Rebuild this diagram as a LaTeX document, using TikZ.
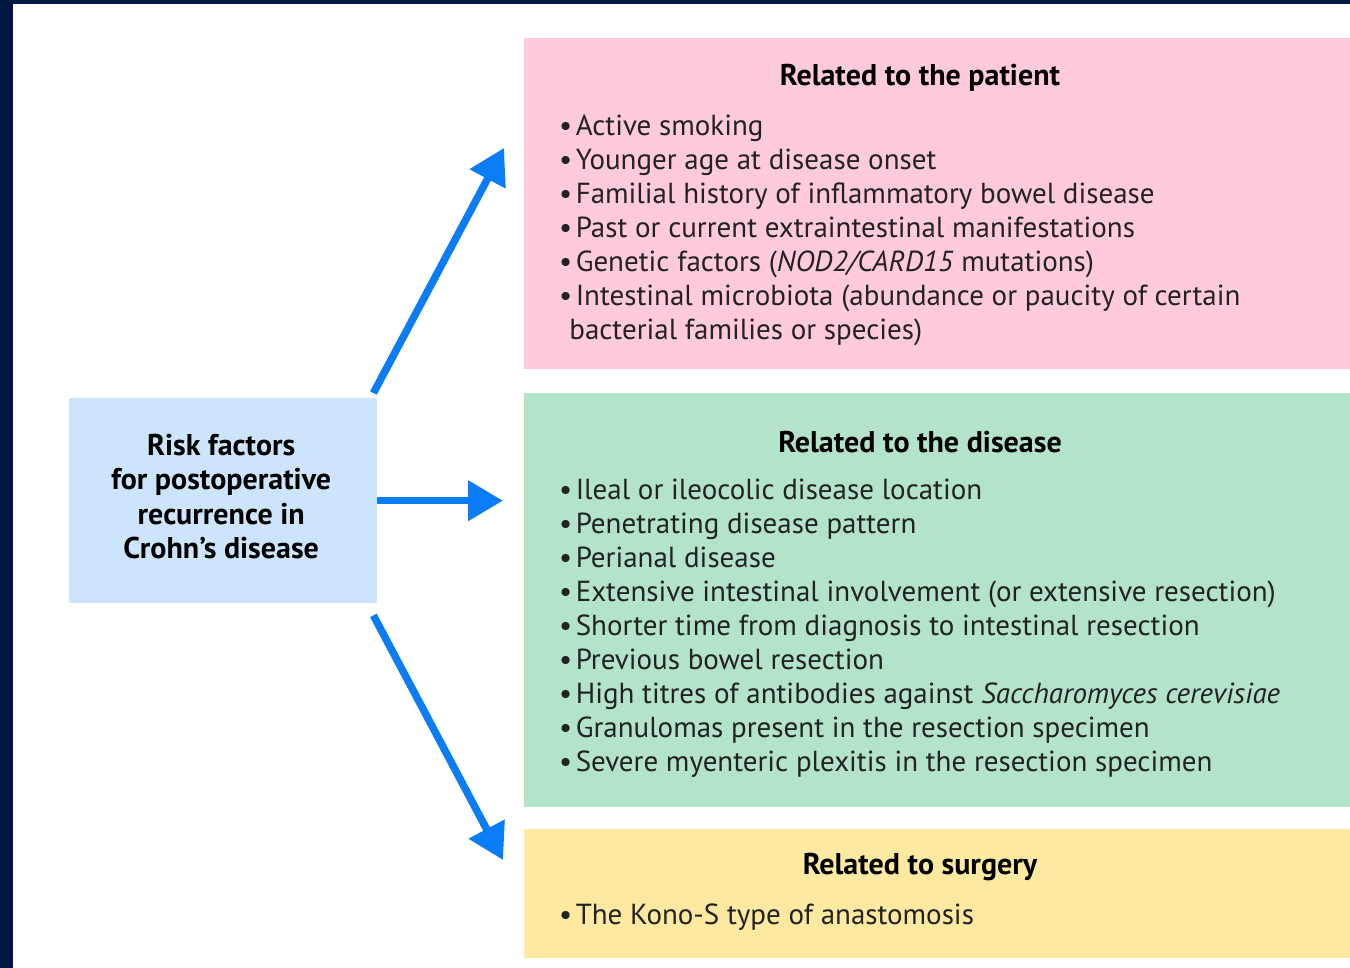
\documentclass[tikz,border=0pt]{standalone}
\usepackage{fontspec}
\setmainfont{PT Sans}
\usetikzlibrary{arrows.meta,positioning,calc}
\definecolor{bgNavy}{HTML}{00183F}
\definecolor{boxBlue}{HTML}{CCE5FC}
\definecolor{boxPink}{HTML}{FFC9DE}
\definecolor{boxGreen}{HTML}{B3E3C8}
\definecolor{boxYellow}{HTML}{FDE9A0}
\definecolor{arrBlue}{HTML}{0A7CF6}
\definecolor{txtGray}{HTML}{222222}
\newcommand{\bodysize}{\fontsize{29}{34}\selectfont}
\newcommand{\headsize}{\fontsize{30}{34.5}\selectfont}
\newcommand{\bul}{•\hspace{0.12em}}
\tikzset{
  panel/.style={anchor=north west, inner sep=0pt, minimum width=826pt},
  heading/.style={anchor=base, font=\headsize\bfseries, text=black},
  itemlist/.style={anchor=base west, align=left, inner sep=0pt},% base = last line
  bigarrow/.style={arrBlue, line width=7.5pt, -{Triangle[length=35pt, width=39pt]}}
}
\begin{document}
\begin{tikzpicture}[x=1pt, y=-1pt, >=Stealth, text=txtGray, font=\bodysize]
\useasboundingbox (0,0) rectangle (1350,968);
\fill[white] (0,0) rectangle (1350,968);
\fill[bgNavy] (0,0) rectangle (13,968);
\fill[bgNavy] (0,0) rectangle (1350,4);
% boxes
\node[panel, fill=boxBlue, minimum width=308pt, minimum height=205pt] (risk) at (69,398) {};
\node[panel, fill=boxPink, minimum height=331pt] (patient) at (524,38) {};
\node[panel, fill=boxGreen, minimum height=414pt] (disease) at (524,393) {};
\node[panel, fill=boxYellow, minimum height=129pt] (surgery) at (524,829) {};
% texts
\node[align=center, font=\headsize\bfseries, text=black] (riskText) at ($(risk.center)+(-2,-4)$)
  {Risk factors\\for postoperative\\recurrence in\\Crohn’s disease};
\node[heading] (patTitle) at (920,86) {Related to the patient};
\node[itemlist] (patList) at (559,340) {\bul Active smoking\\
  \bul Younger age at disease onset\\
  \bul Familial history of inflammatory bowel disease\\
  \bul Past or current extraintestinal manifestations\\
  \bul Genetic factors (\textit{NOD2/CARD15} mutations)\\
  \bul Intestinal microbiota (abundance or paucity of certain\\
  \hspace{0.35em}bacterial families or species)};
\node[heading] (disTitle) at (920,452) {Related to the disease};
\node[itemlist] (disList) at (559,771) {\bul Ileal or ileocolic disease location\\
  \bul Penetrating disease pattern\\
  \bul Perianal disease\\
  \bul Extensive intestinal involvement (or extensive resection)\\
  \bul Shorter time from diagnosis to intestinal resection\\
  \bul Previous bowel resection\\
  \bul High titres of antibodies against \textit{Saccharomyces cerevisiae}\\
  \bul Granulomas present in the resection specimen\\
  \bul Severe myenteric plexitis in the resection specimen};
\node[heading] (surTitle) at (920,874) {Related to surgery};
\node[itemlist] (surList) at (559,924) {\bul The Kono-S type of anastomosis};
% arrows
\coordinate (upStart) at ($(risk.north east)+(-4,-5)$);
\coordinate (upTip) at ($(patient.north west)+(-20,110)$);
\coordinate (midTip) at ($(disease.west |- risk.east)+(-21,0)$);
\coordinate (downStart) at ($(risk.south east)+(-4,12)$);
\coordinate (downTip) at ($(surgery.north west)+(-21,31)$);
\draw[bigarrow] (upStart) -- (upTip);
\draw[bigarrow] (risk.east) -- (midTip);
\draw[bigarrow] (downStart) -- (downTip);
\end{tikzpicture}
\end{document}
